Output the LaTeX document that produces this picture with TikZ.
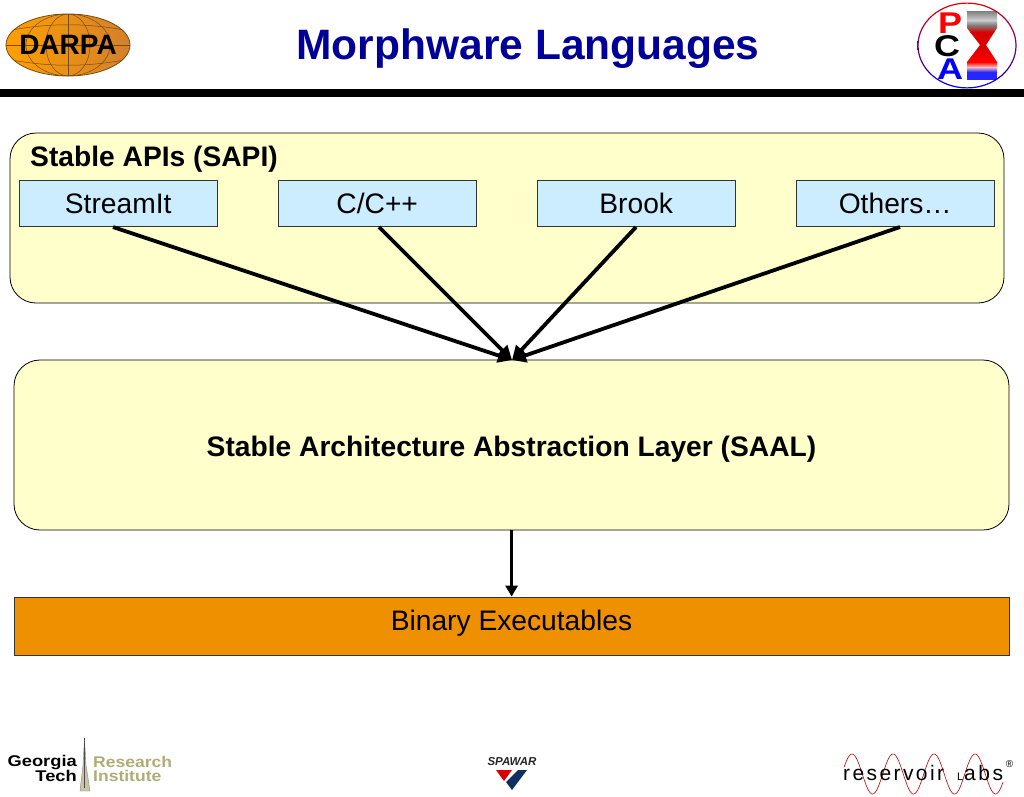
\documentclass[tikz,border=0pt]{standalone}
\usepackage{fontspec}
\setmainfont{Liberation Sans}
\usetikzlibrary{arrows.meta}
\definecolor{sapiyellow}{RGB}{255,255,204}
\definecolor{boxblue}{RGB}{204,236,255}
\definecolor{binorange}{RGB}{238,144,0}
\definecolor{titleblue}{RGB}{0,0,153}
\definecolor{khaki}{RGB}{176,172,120}
\definecolor{darpadark}{RGB}{120,75,20}
\definecolor{navyspawar}{RGB}{16,48,96}
\tikzset{
  panel/.style={draw=black,line width=0.8pt,fill=sapiyellow,rounded corners=26pt},
  langbox/.style={draw=black!80,line width=0.8pt,fill=boxblue,minimum width=198.6pt,minimum height=46.6pt,inner sep=0pt,text height=21pt,text depth=0pt,font=\fontsize{28.2}{30}\selectfont},
  flow/.style={line width=3.8pt,-{Triangle[length=14pt,width=14pt]}},
  flowthin/.style={line width=3pt,-{Triangle[length=11pt,width=12pt]}},
  pcaletter/.style={font=\bfseries\fontsize{30}{32}\selectfont,inner sep=0pt,xscale=1.2,transform shape},
  fineline/.style={darpadark,line width=0.5pt},
}
\begin{document}
\begin{tikzpicture}[x=1pt,y=-1pt]
\useasboundingbox (0,0) rectangle (1024,796);
% title
\node[font=\bfseries\fontsize{42.5}{46}\selectfont,text=titleblue,inner sep=0pt] (title) at (528,49) {Morphware Languages};
\fill[black] (0,89) rectangle (1024,97);
% DARPA logo
\shade[left color=orange!75!yellow,middle color=yellow!85!orange,right color=brown!70!orange,draw=darpadark,line width=0.8pt] (68,45) ellipse [x radius=62,y radius=31];
\begin{scope}
\clip (68,45) ellipse [x radius=62,y radius=31];
\draw[fineline] (68,45) ellipse [x radius=22,y radius=31];
\draw[fineline] (68,45) ellipse [x radius=42,y radius=31];
\draw[fineline] (68,14) -- (68,76);
\draw[fineline] (6,45) -- (130,45);
\draw[fineline] (12,30) .. controls (50,23) and (86,23) .. (124,30);
\draw[fineline] (12,60) .. controls (50,67) and (86,67) .. (124,60);
\end{scope}
\node[font=\bfseries\fontsize{28}{30}\selectfont,inner sep=0pt] (darpa) at (68,45) {DARPA};
% PCA logo
\begin{scope}
\clip (967,11) -- (997,11) -- (997,28) -- (986,45) -- (997,62) -- (997,80) -- (967,80) -- (967,62) -- (980,45) -- (967,28) -- cycle;
\shade[top color=gray,bottom color=gray!40] (967,11) rectangle (997,20);
\shade[top color=gray!40,bottom color=gray] (967,20) rectangle (997,25);
\shade[top color=gray,bottom color=red!85!black] (967,25) rectangle (997,32);
\fill[red!85!black] (967,32) rectangle (997,46);
\shade[top color=red!85!black,bottom color=red] (967,46) rectangle (997,62);
\shade[top color=red,bottom color=red!25] (967,62) rectangle (997,67);
\shade[top color=red!25,bottom color=blue!85] (967,67) rectangle (997,72);
\fill[blue!85] (967,72) rectangle (997,80);
\end{scope}
\shade[top color=red!90!black,bottom color=blue!90!black,even odd rule] (967,45.5) ellipse [x radius=49.6,y radius=43] (967,45.5) ellipse [x radius=48.4,y radius=41.8];
\node[pcaletter,text=red] (pcap) at (950,23) {P};
\node[pcaletter,text=black] (pcac) at (947,46) {C};
\node[pcaletter,text=blue] (pcaa) at (950,69) {A};
% SAPI
\draw[panel] (10,133) rectangle (1004,303);
\node[anchor=west,font=\bfseries\fontsize{28.2}{30}\selectfont,inner sep=0pt] (sapi) at (30,159) {Stable APIs (SAPI)};
\node[langbox] (s1) at (118.2,203.4) {StreamIt};
\node[langbox] (s2) at (377.2,203.4) {C/C++};
\node[langbox] (s3) at (636.2,203.4) {Brook};
\node[langbox] (s4) at (895.2,203.4) {Others…};
% SAAL
\draw[panel] (14,360) rectangle (1009,530);
\node[font=\bfseries\fontsize{28.2}{30}\selectfont,inner sep=0pt] (saal) at (511.5,449) {Stable Architecture Abstraction Layer (SAAL)};
\coordinate (saaltop) at (512,360);
\coordinate (saalbot) at (511.6,530);
% Binary
\node[draw=black!80,line width=0.8pt,fill=binorange,minimum width=995pt,minimum height=58pt,inner sep=0pt] (bin) at (511.5,626) {};
\node[font=\fontsize{28.2}{30}\selectfont,inner sep=0pt] (bintext) at (511.5,623.5) {Binary Executables};
% arrows
\coordinate (a1) at (113,227);
\coordinate (a2) at (379,227);
\coordinate (a3) at (636,227);
\coordinate (a4) at (900,227);
\draw[flow] (a1) -- (saaltop);
\draw[flow] (a2) -- (saaltop);
\draw[flow] (a3) -- (saaltop);
\draw[flow] (a4) -- (saaltop);
\draw[flowthin] (saalbot) -- (bin.north -| saalbot);
% Georgia Tech logo
\node[anchor=east,align=right,font=\bfseries\fontsize{15.5}{13.5}\selectfont,inner sep=0pt,xscale=1.18,transform shape] (gt) at (77,768.5) {Georgia\\Tech};
\fill[khaki!70,draw=black!45,line width=0.4pt] (84.5,738) -- (86,765) -- (90,791) -- (80,791) -- (83,765) -- cycle;
\draw[black!70,line width=0.4pt] (84.5,738) -- (84.5,788);
\node[anchor=west,align=left,font=\bfseries\fontsize{15.5}{13.5}\selectfont,text=khaki,inner sep=0pt,xscale=1.13,transform shape] (gtri) at (93,769) {Research\\Institute};
% SPAWAR logo
\node[font=\bfseries\itshape\fontsize{11.5}{12}\selectfont,text=black!85,inner sep=0pt] (spawar) at (512,762) {SPAWAR};
\fill[red!85!black] (496,770) -- (512,770) -- (504,781) -- cycle;
\fill[navyspawar] (518,770) -- (527,770) -- (512,790) -- (506,782) -- cycle;
% Reservoir Labs
\draw[red!75!black,line width=0.6pt] plot[domain=0:159,samples=160,smooth] ({844+\x},{774-20*sin((\x+2.25)*8.78)});
\node[anchor=west,font=\fontsize{21}{24}\selectfont,inner sep=0pt] (res) at (843,773) {r\kern2.4pt e\kern2.4pt s\kern2.4pt e\kern2.4pt r\kern2.4pt v\kern2.4pt o\kern2.4pt i\kern2.4pt r};
\node[anchor=west,font=\fontsize{21}{24}\selectfont,inner sep=0pt] (labs) at (957,773) {{\fontsize{11}{11}\selectfont L}\kern0.8pt a\kern2.6pt b\kern2.6pt s};
\node[font=\fontsize{10}{10}\selectfont,inner sep=0pt] (reg) at (1009.5,764) {®};
\end{tikzpicture}
\end{document}
